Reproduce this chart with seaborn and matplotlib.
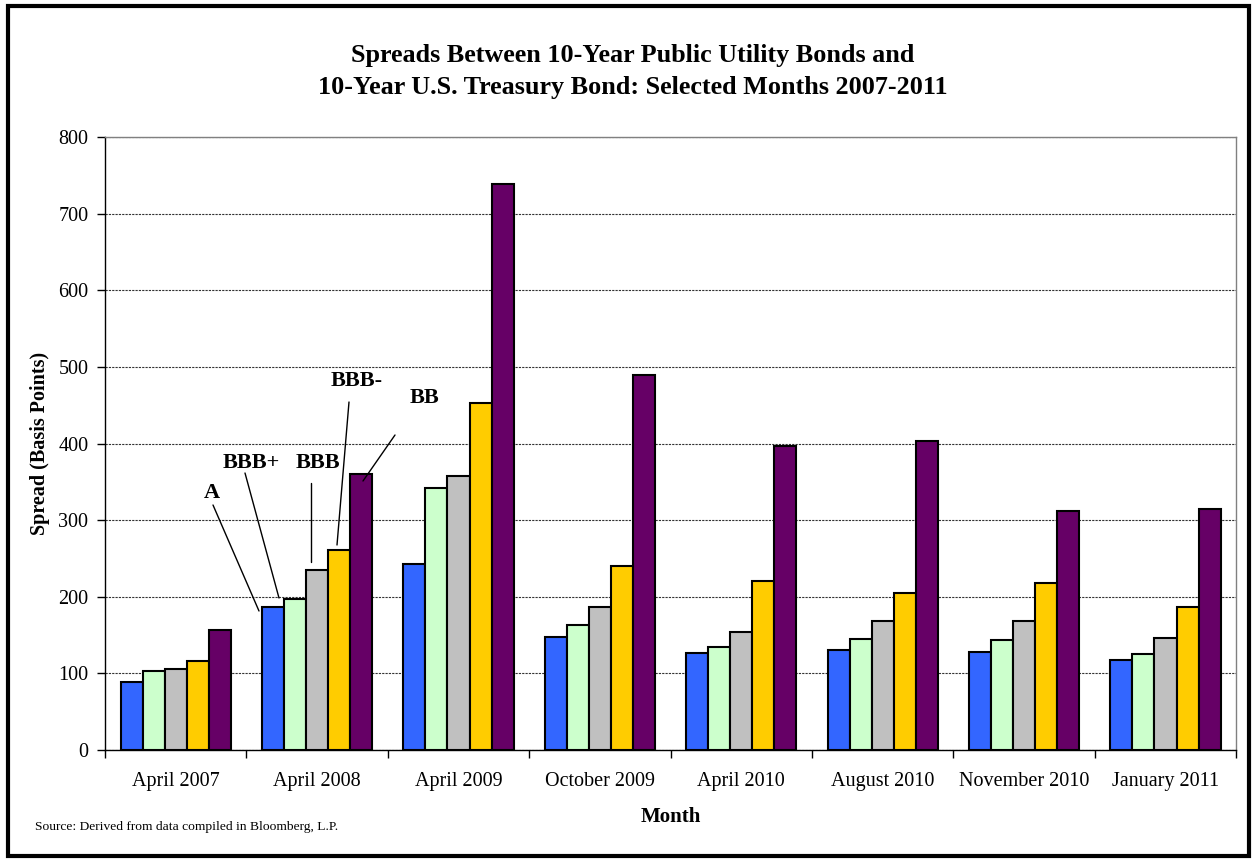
import numpy as np
import pandas as pd
import matplotlib
matplotlib.use("Agg")
import matplotlib.pyplot as plt
import seaborn as sns
from matplotlib.patches import Rectangle
from matplotlib.lines import Line2D

months = ['April 2007', 'April 2008', 'April 2009', 'October 2009',
          'April 2010', 'August 2010', 'November 2010', 'January 2011']
ratings = ['A', 'BBB+', 'BBB', 'BBB-', 'BB']

spread_a = [89, 186, 243, 147, 127, 131, 128, 117]
spread_bbb_plus = [103, 197, 342, 163, 135, 145, 144, 125]
spread_bbb = [106, 235, 357, 187, 154, 169, 168, 146]
spread_bbb_minus = [116, 261, 453, 240, 221, 205, 218, 186]
spread_bb = [157, 360, 738, 490, 397, 403, 312, 314]

colors = ['#3366FF', '#CCFFCC', '#C0C0C0', '#FFCC00', '#660066']

df = pd.DataFrame({
    'Month': np.repeat(months, len(ratings)),
    'Rating': ratings * len(months),
    'Spread': np.array([spread_a, spread_bbb_plus, spread_bbb,
                        spread_bbb_minus, spread_bb]).T.ravel(),
})

sns.set_style('white')
plt.rcParams['font.family'] = ['Liberation Serif', 'DejaVu Serif']
plt.rcParams['text.color'] = 'black'
plt.rcParams['axes.labelcolor'] = 'black'
plt.rcParams['xtick.color'] = 'black'
plt.rcParams['ytick.color'] = 'black'

W, H = 1255, 861
fig = plt.figure(figsize=(W / 100, H / 100), dpi=100)
ax = fig.add_axes([0.0837, 0.1289, 0.9013, 0.712])

sns.barplot(data=df, x='Month', y='Spread', hue='Rating', hue_order=ratings,
            order=months, palette=colors, width=0.78, gap=0,
            edgecolor='black', linewidth=1.5, saturation=1, legend=False, ax=ax)

ax.set_ylim(0, 800)
ax.set_xlim(-0.5, 7.5)
ax.set_yticks(range(0, 801, 100))
ax.tick_params(axis='y', labelsize=14.5, length=6, direction='out', left=True, width=1, pad=6)
ax.tick_params(axis='x', which='major', labelsize=14.5, length=0, pad=16)
ax.set_xticks(np.arange(-0.5, 8, 1), minor=True)
ax.tick_params(axis='x', which='minor', length=6, direction='out', bottom=True, width=1)

ax.grid(axis='y', linestyle=(0, (2, 1)), color='#333333', linewidth=0.8)
ax.set_axisbelow(True)
for s in ['left', 'bottom']:
    ax.spines[s].set_color('black')
    ax.spines[s].set_linewidth(1)
for s in ['top', 'right']:
    ax.spines[s].set_color('#808080')
    ax.spines[s].set_linewidth(1)

ax.set_xlabel('Month', fontsize=15, fontweight='bold', labelpad=11)
ax.set_ylabel('Spread (Basis Points)', fontsize=14.5, fontweight='bold', labelpad=6)

fig.text(0.504, 0.917, 'Spreads Between 10-Year Public Utility Bonds and\n'
         '10-Year U.S. Treasury Bond: Selected Months 2007-2011',
         ha='center', va='center', fontsize=18.8, fontweight='bold', linespacing=1.45)
fig.text(0.028, 0.040, 'Source: Derived from data compiled in Bloomberg, L.P.',
         fontsize=9.7, ha='left', va='center')

# rating labels and leader lines on the April 2008 group (figure pixels, y from top)
labels = [('A', 212, 493), ('BBB+', 251, 463), ('BBB', 318, 463),
          ('BBB-', 357, 381), ('BB', 424, 398)]
leaders = [((213, 505), (259, 611)), ((245, 473), (279, 598)),
           ((311, 483), (311, 562)), ((349, 402), (337, 545)),
           ((395, 435), (363, 481))]
for txt, px, py in labels:
    fig.text(px / W, 1 - py / H, txt, fontsize=16, fontweight='bold',
             ha='center', va='center')
for (x0, y0), (x1, y1) in leaders:
    fig.add_artist(Line2D([x0 / W, x1 / W], [1 - y0 / H, 1 - y1 / H],
                          transform=fig.transFigure, color='black', lw=1))

fig.patches.append(Rectangle((0.006, 0.006), 0.989, 0.987, transform=fig.transFigure,
                             fill=False, edgecolor='black', linewidth=3))

fig.savefig('out.png', dpi=100)
